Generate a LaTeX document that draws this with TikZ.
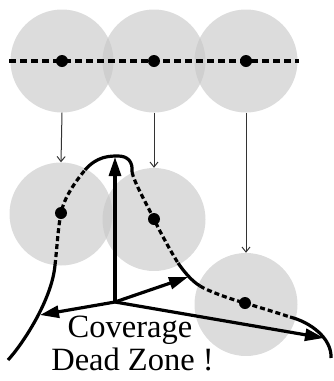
\documentclass[tikz,border=0pt]{standalone}
\usepackage{fontspec}
\setmainfont{Liberation Serif}
\usetikzlibrary{arrows.meta}
\definecolor{zonegray}{RGB}{199,199,199}
\tikzset{
  zone/.style={circle, inner sep=0pt, minimum size=103pt, fill=zonegray, fill opacity=0.625, draw=none},
  sensor/.style={circle, inner sep=0pt, minimum size=12pt, fill=black},
  move/.style={draw=black!80, line width=1pt, -{Straight Barb[length=5pt,width=8pt]}},
  path solid/.style={line width=3.2pt},
  path dashed/.style={line width=3.2pt, dash pattern=on 5pt off 3pt},
  axis/.style={line width=3.2pt, -{Triangle[length=19pt,width=12pt]}},
  label/.style={font=\fontsize{32.5}{33}\selectfont, inner sep=0pt, anchor=base}
}
\begin{document}
\begin{tikzpicture}[x=1pt, y=-1pt]
\useasboundingbox (0,0) rectangle (333,381);

% initial deployment: three nodes on a straight line
\node[zone] (t1) at (62,61) {};
\node[zone] (t2) at (154,61) {};
\node[zone] (t3) at (246,61) {};
\coordinate (lineL) at (9,61);
\coordinate (lineR) at (299,61);
\draw[line width=4.2pt, dash pattern=on 7pt off 4pt] (lineL) -- (lineR);
\node[sensor] (s1) at (t1) {};
\node[sensor] (s2) at (t2) {};
\node[sensor] (s3) at (t3) {};

% nodes after moving
\node[zone] (b1) at (61,214) {};
\node[zone] (b2) at (154,219.5) {};
\node[zone] (b3) at (246,304.5) {};

\draw[move] (t1.south) -- (b1.north);
\draw[move] (t2.south) -- (b2.north);
\draw[move] (t3.south) -- (b3.north);

% new sensor positions
\node[sensor] (d1) at (61,213) {};
\node[sensor] (d2) at (154,219) {};
\node[sensor] (d3) at (245,303) {};

% coverage curve
\coordinate (c0) at (8,360);
\coordinate (c1) at (55,265);
\coordinate (c3) at (85,170);
\coordinate (c4) at (118,156);
\coordinate (c5) at (132,172);
\coordinate (c7) at (178,263);
\coordinate (c8) at (200,286);
\coordinate (c10) at (290,317);
\coordinate (c11) at (331,358);

\draw[path solid] (c0) .. controls (22,345) and (52,300) .. (c1);
\draw[path dashed] (c1) .. controls (57,248) and (58,228) .. (d1.center)
  .. controls (64,198) and (75,182) .. (c3);
\draw[path solid] (c3) .. controls (97,156) and (110,156) .. (c4)
  .. controls (128,156) and (133,162) .. (c5);
\draw[path dashed] (c5) .. controls (134,182) and (147,205) .. (d2.center)
  .. controls (160,232) and (170,250) .. (c7);
\draw[path solid] (c7) .. controls (185,273) and (192,281) .. (c8);
\draw[path dashed] (c8) .. controls (208,291) and (230,299) .. (d3.center)
  .. controls (258,307) and (278,313) .. (c10);
\draw[path solid] (c10) .. controls (310,322) and (332,338) .. (c11);

% axes from the dead-zone centre
\coordinate (o) at (115,302);
\coordinate (aUp) at (115,157);
\coordinate (aLeft) at (40,315);
\coordinate (aRight) at (188,277);
\coordinate (aDown) at (324,338);
\draw[axis] (o) -- (aUp);
\draw[axis] (o) -- (aLeft);
\draw[axis] (o) -- (aRight);
\draw[axis] (o) -- (aDown);

\node[label] (cov) at (130,337) {Coverage};
\node[label] (dz) at (132.5,370) {Dead Zone !};
\end{tikzpicture}
\end{document}
